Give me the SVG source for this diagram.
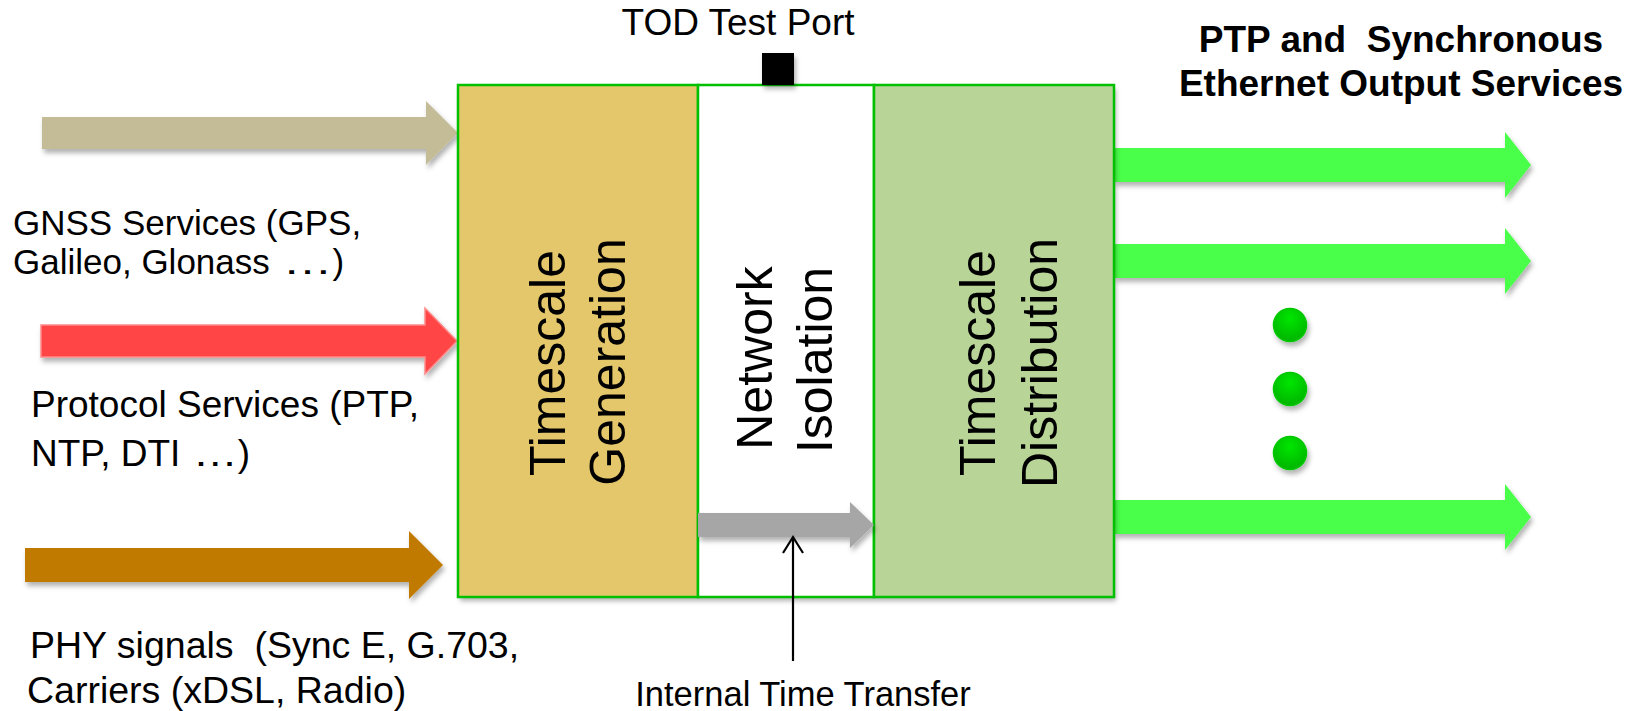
<svg xmlns="http://www.w3.org/2000/svg" width="1642" height="711" viewBox="0 0 1642 711">
<style>
.lbl{font-family:"Liberation Sans",Arial,sans-serif;font-size:37px;fill:#000}
.bold{font-family:"Liberation Sans",Arial,sans-serif;font-size:37px;font-weight:bold;fill:#000}
.vt{font-family:"Liberation Sans",Arial,sans-serif;font-size:50px;fill:#000;text-anchor:middle}
.sec{stroke:#00C000;stroke-width:2.5}
</style>
<defs>
<filter id="sh" x="-10%" y="-10%" width="130%" height="140%">
<feDropShadow dx="2" dy="4" stdDeviation="2.5" flood-color="#000" flood-opacity="0.3"/>
</filter>
<radialGradient id="dot" cx="0.5" cy="0.3" r="0.7">
<stop offset="0" stop-color="#00E600"/>
<stop offset="1" stop-color="#00B400"/>
</radialGradient>
</defs>
<rect width="1642" height="711" fill="#fff"/>

<g id="connectors">
<polygon id="in-gnss" filter="url(#sh)" fill="#C4BC96" points="42,117 426,117 426,101 458,133 426,165 426,149 42,149"/>
<polygon id="in-protocol" filter="url(#sh)" fill="#FF4444" stroke="#FF8A8A" stroke-width="1.5" points="41,325 425,325 425,308 457,341 425,374 425,357 41,357"/>
<polygon id="in-phy" filter="url(#sh)" fill="#C07A00" points="25,548 409,548 409,531 443,565 409,599 409,582 25,582"/>
<polygon id="out-1" filter="url(#sh)" fill="#48FF48" points="1114,148 1505,148 1505,132 1531,165 1505,198 1505,182 1114,182"/>
<polygon id="out-2" filter="url(#sh)" fill="#48FF48" points="1114,244 1505,244 1505,228 1531,261 1505,294 1505,278 1114,278"/>
<polygon id="out-3" filter="url(#sh)" fill="#48FF48" points="1114,500 1505,500 1505,484 1531,517 1505,550 1505,534 1114,534"/>
</g>

<g id="system" filter="url(#sh)">
<rect x="458" y="85" width="656" height="512" fill="#fff"/>
</g>
<g id="timescale-generation">
<rect class="sec" x="458" y="85" width="240" height="512" fill="#E5C76B"/>
<text class="vt" transform="translate(565,363) rotate(-90)">Timescale</text>
<text class="vt" transform="translate(625,362) rotate(-90)">Generation</text>
</g>
<g id="network-isolation">
<rect class="sec" x="698" y="85" width="176" height="512" fill="#fff"/>
<text class="vt" transform="translate(772,358) rotate(-90)">Network</text>
<text class="vt" transform="translate(832,360) rotate(-90)">Isolation</text>
</g>
<g id="timescale-distribution">
<rect class="sec" x="874" y="85" width="240" height="512" fill="#B8D497"/>
<text class="vt" transform="translate(995,363) rotate(-90)">Timescale</text>
<text class="vt" transform="translate(1057,363) rotate(-90)">Distribution</text>
</g>

<g id="internal-transfer">
<polygon filter="url(#sh)" fill="#A6A6A6" points="698,513 850,513 850,502 874,525 850,548 850,537 698,537"/>
</g>

<g id="tod-port">
<rect x="762" y="53" width="32" height="32" fill="#000" filter="url(#sh)"/>
<text class="lbl" x="738" y="35" text-anchor="middle">TOD Test Port</text>
</g>

<g id="dots" filter="url(#sh)">
<circle cx="1290" cy="325" r="16.5" fill="url(#dot)" stroke="#00C800" stroke-width="1.5"/>
<circle cx="1290" cy="389" r="16.5" fill="url(#dot)" stroke="#00C800" stroke-width="1.5"/>
<circle cx="1290" cy="453" r="16.5" fill="url(#dot)" stroke="#00C800" stroke-width="1.5"/>
</g>

<g id="pointer">
<line x1="793" y1="661" x2="793" y2="537" stroke="#000" stroke-width="2.2"/>
<polyline points="783,553 793,537 803,553" fill="none" stroke="#000" stroke-width="2.2"/>
<text class="lbl" x="803" y="706" text-anchor="middle" style="font-size:34.5px">Internal Time Transfer</text>
</g>

<g id="labels-in">
<text class="lbl" x="13" y="235" style="font-size:35px">GNSS Services (GPS,</text>
<text class="lbl" x="13" y="274" style="font-size:35px">Galileo, Glonass <tspan dx="3" textLength="50" lengthAdjust="spacingAndGlyphs">…</tspan>)</text>
<text class="lbl" x="31" y="417">Protocol Services (PTP,</text>
<text class="lbl" x="31" y="466">NTP, DTI <tspan dx="2" textLength="45" lengthAdjust="spacingAndGlyphs">…</tspan>)</text>
<text class="lbl" x="30" y="658" xml:space="preserve" style="font-size:37.5px">PHY signals  (Sync E, G.703,</text>
<text class="lbl" x="27" y="703" style="font-size:37.5px">Carriers (xDSL, Radio)</text>
</g>

<g id="labels-out">
<text class="bold" x="1401" y="52" text-anchor="middle" xml:space="preserve">PTP and  Synchronous</text>
<text class="bold" x="1401" y="96" text-anchor="middle">Ethernet Output Services</text>
</g>
</svg>
